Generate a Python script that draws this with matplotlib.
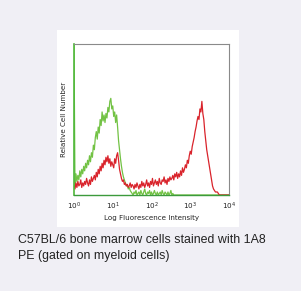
import numpy as np
import matplotlib
matplotlib.use("Agg")
import matplotlib.pyplot as plt
from matplotlib.patches import Rectangle

# histogram bins, log10 of fluorescence, 0.025 decade steps
log_fl = np.arange(161) * 0.025

# isotype / unstained (green)
green_peak = [100, 6, 14, 9, 13, 10, 16, 12, 17, 14, 19, 16, 21, 18, 23, 20,
              26, 22, 28, 25, 33, 30, 38, 42, 37, 45, 41, 50, 46, 55, 49, 53,
              48, 54, 51, 58, 55, 62, 64, 57, 59, 52, 55, 48, 53, 45, 36, 30,
              24, 19, 15, 12, 10, 8, 6, 7, 4, 5, 3, 2, 1]
green_tail = [0, 2, 1, 3, 0, 1, 2, 0, 3, 1, 0, 2, 4, 1, 0, 2, 1, 3, 0, 2, 0, 1,
              3, 1, 0, 2, 0, 1, 2, 0, 3, 1, 0, 2, 1, 0, 2, 0, 1, 3, 0, 1, 0, 0]
green = green_peak + green_tail + [0] * 56

# 1A8 PE stained (red)
red_low = [6, 4, 8, 5, 9, 6, 7, 10, 5, 8, 6, 9, 7, 11, 8, 6, 10, 7, 12, 9, 11,
           13, 10, 15, 12, 17, 14, 19, 16, 21, 18, 23, 20, 25, 22, 26, 21, 24, 19, 22, 20,
           18, 24, 21, 26, 28, 23, 17, 14, 11, 9, 10, 7, 8, 6, 7, 5, 6, 8, 5, 7]
red_mid = [6, 4, 7, 5, 8, 6, 4, 7, 5, 9, 6, 8, 5, 7, 10, 6, 8, 5, 9, 7, 11, 6,
           8, 10, 7, 9, 6, 11, 8, 7, 10, 9, 12, 8, 10, 7, 11, 9, 12, 10]
red_peak = [11, 13, 10, 14, 12, 15, 11, 14, 12, 16, 13, 18, 15, 17, 20, 18, 23,
            21, 26, 29, 27, 32, 35, 38, 42, 45, 49, 52, 50, 57, 55, 62, 54, 50,
            42, 36, 30, 26, 22, 18, 14, 10, 6, 4, 3, 2, 2, 2, 1, 0]
red = red_low + red_mid + red_peak + [0] * 10

tick_pos = [1, 10, 100, 1000, 10000]
tick_lab = [r'$10^{0}$', r'$10^{1}$', r'$10^{2}$', r'$10^{3}$', r'$10^{4}$']

caption = "C57BL/6 bone marrow cells stained with 1A8\nPE (gated on myeloid cells)"

fig = plt.figure(figsize=(3.01, 2.91), dpi=100)
fig.patch.set_facecolor('#f0eff5')
fig.patches.append(Rectangle((57 / 301, 1 - 227 / 291), 182 / 301, 197 / 291,
                             transform=fig.transFigure, facecolor='white',
                             edgecolor='none', zorder=-5))

ax = fig.add_axes([74 / 301, 1 - 195 / 291, 155 / 301, 151 / 291])
ax.set_zorder(2)
ax.set_facecolor('white')
x = 10 ** log_fl
ax.plot(x, green, color='#72c244', lw=0.9)
ax.plot(x, red, color='#d9232b', lw=0.9)
ax.set_xscale('log')
ax.set_xlim(1, 1e4)
ax.set_ylim(0, 100)
ax.set_xticks(tick_pos)
ax.set_xticklabels(tick_lab, fontsize=5.2, color='#222222')
ax.xaxis.set_minor_locator(matplotlib.ticker.NullLocator())
ax.tick_params(axis='x', length=0, pad=4)
ax.set_yticks([])
for s in ['top', 'right']:
    ax.spines[s].set_color('#8a8a8a')
    ax.spines[s].set_linewidth(0.8)
ax.spines['bottom'].set_color('#3c9a3c')
ax.spines['left'].set_color('#4fb83a')
ax.spines['bottom'].set_linewidth(1.0)
ax.spines['left'].set_linewidth(1.2)
ax.set_xlabel('Log Fluorescence Intensity', fontsize=5.1, labelpad=2, color='#222222')
ax.set_ylabel('Relative Cell Number', fontsize=5.1, labelpad=5, color='#222222')

fig.text(18 / 301, 1 - 234 / 291, caption, fontsize=8.9, family='Liberation Sans',
         color='#222222', va='top', ha='left', linespacing=1.45, zorder=3)

fig.savefig('out.png', dpi=100, facecolor=fig.get_facecolor())
